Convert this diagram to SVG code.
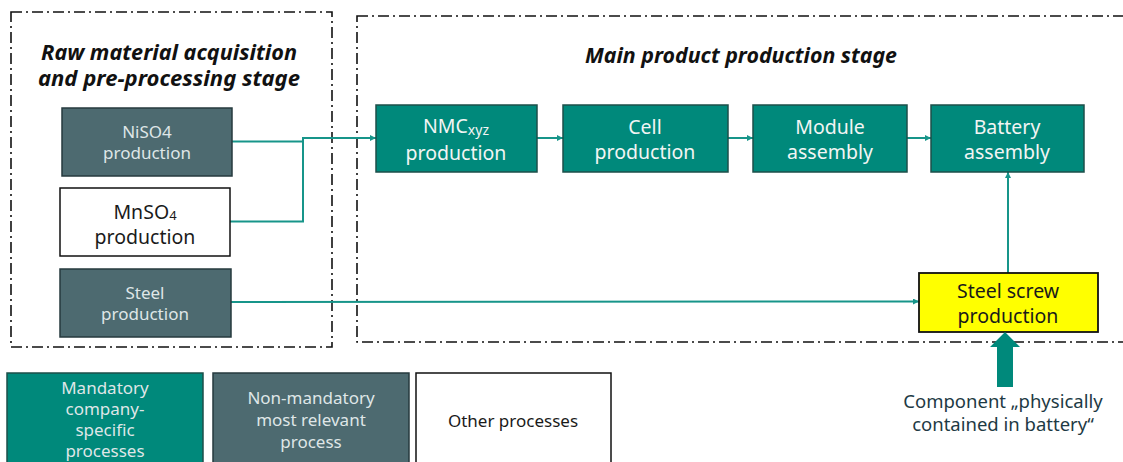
<svg xmlns="http://www.w3.org/2000/svg" width="1123" height="462" viewBox="0 0 1123 462">
<defs>
<style>
.stage{fill:none;stroke:#111;stroke-width:1.6;stroke-dasharray:11 4 2 4}
.title{font-family:"Noto Sans","Liberation Sans",sans-serif;font-weight:bold;font-style:italic;font-size:21px;fill:#111;text-anchor:middle}
.teal{fill:#00897b;stroke:#1d4f4a;stroke-width:1.5}
.slate{fill:#4d6a70;stroke:#263a3e;stroke-width:1.5}
.white{fill:#fff;stroke:#111;stroke-width:1.5}
.yellow{fill:#ffff00;stroke:#111;stroke-width:1.8}
.t{font-family:"Noto Sans","Liberation Sans",sans-serif;text-anchor:middle;dominant-baseline:central}
.big{font-size:19.5px}
.small{font-size:17px}
.lt{fill:#f2f5f4}
.ls{fill:#dfe6e7}
.dk{fill:#1a1a1a}
.conn{fill:none;stroke:#17958a;stroke-width:2}
</style>
<marker id="arr" viewBox="0 0 10 10" refX="10" refY="5" markerWidth="6" markerHeight="6" markerUnits="userSpaceOnUse" orient="auto">
<path d="M0,0 L10,5 L0,10 z" fill="#17958a"/>
</marker>
</defs>
<rect width="1123" height="462" fill="#fff"/>

<g id="stage-raw">
<rect class="stage" x="11" y="12" width="321" height="335"/>
<text class="title" x="169" y="60" textLength="256" lengthAdjust="spacingAndGlyphs">Raw material acquisition</text>
<text class="title" x="169" y="86" textLength="262" lengthAdjust="spacingAndGlyphs">and pre-processing stage</text>
</g>
<g id="stage-main">
<rect class="stage" x="357" y="16" width="790" height="326"/>
<text class="title" x="741" y="63" textLength="312" lengthAdjust="spacingAndGlyphs">Main product production stage</text>
</g>

<g id="connectors">
<polyline class="conn" points="232,141.5 303,141.5 303,138 376,138" marker-end="url(#arr)"/>
<polyline class="conn" points="230,221.5 303,221.5 303,138"/>
<line class="conn" x1="537" y1="138" x2="563" y2="138" marker-end="url(#arr)"/>
<line class="conn" x1="728" y1="138" x2="753" y2="138" marker-end="url(#arr)"/>
<line class="conn" x1="907" y1="138" x2="931" y2="138" marker-end="url(#arr)"/>
<line class="conn" x1="231" y1="302" x2="919" y2="301.5" marker-end="url(#arr)"/>
<line class="conn" x1="1008" y1="273" x2="1008" y2="172" marker-end="url(#arr)"/>
</g>

<g id="niso4">
<rect class="slate" x="62" y="108" width="170" height="68"/>
<text class="t small ls" x="147" y="131">NiSO4</text>
<text class="t small ls" x="147" y="152">production</text>
</g>
<g id="mnso4">
<rect class="white" x="60" y="188" width="170" height="68"/>
<text class="t big dk" x="145" y="211">MnSO<tspan font-size="13" dy="4">4</tspan></text>
<text class="t big dk" x="145" y="236">production</text>
</g>
<g id="steel">
<rect class="slate" x="60" y="269" width="171" height="68"/>
<text class="t small ls" x="145" y="292">Steel</text>
<text class="t small ls" x="145" y="313">production</text>
</g>

<g id="nmc">
<rect class="teal" x="376" y="105" width="161" height="67"/>
<text class="t big lt" x="456" y="125">NMC<tspan font-size="14" dy="4">xyz</tspan></text>
<text class="t big lt" x="456" y="152">production</text>
</g>
<g id="cell">
<rect class="teal" x="563" y="105" width="165" height="67"/>
<text class="t big lt" x="645" y="126">Cell</text>
<text class="t big lt" x="645" y="151">production</text>
</g>
<g id="module">
<rect class="teal" x="753" y="105" width="154" height="67"/>
<text class="t big lt" x="830" y="126">Module</text>
<text class="t big lt" x="830" y="151">assembly</text>
</g>
<g id="battery">
<rect class="teal" x="931" y="105" width="153" height="67"/>
<text class="t big lt" x="1007" y="126">Battery</text>
<text class="t big lt" x="1007" y="151">assembly</text>
</g>
<g id="steel-screw">
<rect class="yellow" x="919" y="273" width="179" height="59"/>
<text class="t big dk" x="1008" y="290">Steel screw</text>
<text class="t big dk" x="1008" y="315">production</text>
</g>

<g id="component-note">
<path d="M997,387 L1013,387 L1013,347 L1020,347 L1005,332 L990,347 L997,347 z" fill="#00897b"/>
<text class="t" x="1003" y="400" font-size="18.5" fill="#1e3a44">Component „physically</text>
<text class="t" x="1003" y="423" font-size="18.5" fill="#1e3a44">contained in battery“</text>
</g>

<g id="legend-mandatory">
<rect class="teal" x="7" y="373" width="196" height="100"/>
<text class="t small ls" x="105" y="387">Mandatory</text>
<text class="t small ls" x="105" y="408">company-</text>
<text class="t small ls" x="105" y="429">specific</text>
<text class="t small ls" x="105" y="450">processes</text>
</g>
<g id="legend-nonmandatory">
<rect class="slate" x="213" y="373" width="196" height="100"/>
<text class="t small ls" x="311" y="397">Non-mandatory</text>
<text class="t small ls" x="311" y="419">most relevant</text>
<text class="t small ls" x="311" y="441">process</text>
</g>
<g id="legend-other">
<rect class="white" x="416" y="373" width="195" height="100"/>
<text class="t small dk" x="513" y="420">Other processes</text>
</g>
</svg>
